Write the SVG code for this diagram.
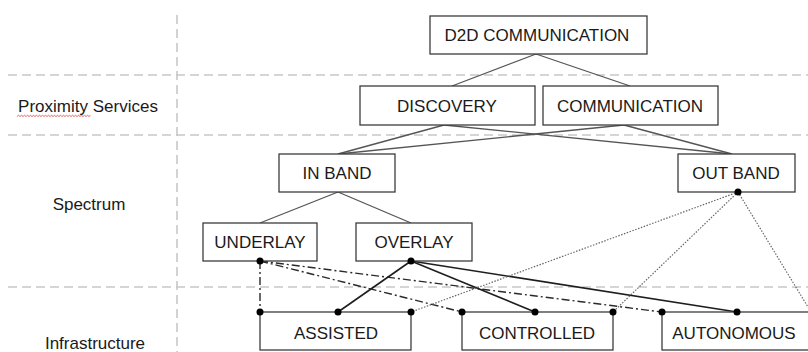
<svg xmlns="http://www.w3.org/2000/svg" width="808" height="352" viewBox="0 0 808 352">
  <style>
    .grid { stroke: #c8c8c8; stroke-width: 1.6; stroke-dasharray: 9 5; fill: none; }
    .box { fill: #ffffff; stroke: #3c3c3c; stroke-width: 1.3; }
    .label { font-family: "Liberation Sans", Arial, sans-serif; font-size: 17px; fill: #1a1a1a; text-anchor: middle; }
    .side { font-family: "Liberation Sans", Arial, sans-serif; font-size: 17px; fill: #1a1a1a; text-anchor: middle; }
    .tree { stroke: #555555; stroke-width: 1.3; fill: none; }
    .solid { stroke: #1e1e1e; stroke-width: 1.6; fill: none; }
    .dashdot { stroke: #2a2a2a; stroke-width: 1.4; stroke-dasharray: 8 3 2 3; fill: none; }
    .dotted { stroke: #666666; stroke-width: 1.2; stroke-dasharray: 1.5 1.5; fill: none; }
    .dot { fill: #000000; }
  </style>

  <rect width="808" height="352" fill="#ffffff"/>

  <!-- layer grid -->
  <g id="grid">
    <line class="grid" x1="177" y1="15" x2="177" y2="352"/>
    <line class="grid" x1="8" y1="75" x2="808" y2="75"/>
    <line class="grid" x1="8" y1="135" x2="808" y2="135"/>
    <line class="grid" x1="8" y1="287" x2="808" y2="287"/>
  </g>

  <!-- layer titles -->
  <g id="layer-labels">
    <text class="side" x="88" y="112">Proximity Services</text>
    <path d="M17 116.5 l1.5 -1.2 l1.5 1.2 l1.5 -1.2 l1.5 1.2 l1.5 -1.2 l1.5 1.2 l1.5 -1.2 l1.5 1.2 l1.5 -1.2 l1.5 1.2 l1.5 -1.2 l1.5 1.2 l1.5 -1.2 l1.5 1.2 l1.5 -1.2 l1.5 1.2 l1.5 -1.2 l1.5 1.2 l1.5 -1.2 l1.5 1.2 l1.5 -1.2 l1.5 1.2 l1.5 -1.2 l1.5 1.2 l1.5 -1.2 l1.5 1.2 l1.5 -1.2 l1.5 1.2 l1.5 -1.2 l1.5 1.2 l1.5 -1.2 l1.5 1.2 l1.5 -1.2 l1.5 1.2 l1.5 -1.2 l1.5 1.2 l1.5 -1.2 l1.5 1.2 l1.5 -1.2 l1.5 1.2 l1.5 -1.2 l1.5 1.2 l1.5 -1.2 l1.5 1.2 l1.5 -1.2 l1.5 1.2 l1.5 -1.2 l1.5 1.2 l1.5 -1.2" fill="none" stroke="#e04040" stroke-width="0.8"/>
    <text class="side" x="89" y="210">Spectrum</text>
    <text class="side" x="95" y="349">Infrastructure</text>
  </g>

  <!-- connectors -->
  <g id="connectors">
    <!-- hierarchy -->
    <line class="tree" x1="536" y1="54" x2="452" y2="86"/>
    <line class="tree" x1="536" y1="54" x2="630" y2="86"/>
    <line class="tree" x1="444" y1="125" x2="338" y2="154"/>
    <line class="tree" x1="444" y1="125" x2="732" y2="154"/>
    <line class="tree" x1="624" y1="125" x2="338" y2="154"/>
    <line class="tree" x1="624" y1="125" x2="732" y2="154"/>
    <line class="tree" x1="338" y1="192" x2="260" y2="223"/>
    <line class="tree" x1="338" y1="192" x2="411" y2="223"/>

    <!-- underlay -->
    <line class="dashdot" x1="260" y1="261" x2="260" y2="312"/>
    <line class="dashdot" x1="260" y1="261" x2="462" y2="312"/>
    <line class="dashdot" x1="260" y1="261" x2="662" y2="312"/>

    <!-- overlay -->
    <line class="solid" x1="411" y1="261" x2="338" y2="312"/>
    <line class="solid" x1="411" y1="261" x2="535" y2="312"/>
    <line class="solid" x1="411" y1="261" x2="737" y2="312"/>

    <!-- out band -->
    <line class="dotted" x1="738" y1="192" x2="411" y2="312"/>
    <line class="dotted" x1="738" y1="192" x2="613" y2="312"/>
    <line class="dotted" x1="738" y1="192" x2="811" y2="312"/>
  </g>

  <!-- nodes -->
  <g id="d2d-communication">
    <rect class="box" x="430" y="16" width="217" height="38"/>
    <text class="label" x="537" y="41">D2D COMMUNICATION</text>
  </g>
  <g id="discovery">
    <rect class="box" x="360" y="86" width="175" height="39"/>
    <text class="label" x="447" y="112">DISCOVERY</text>
  </g>
  <g id="communication">
    <rect class="box" x="543" y="86" width="175" height="39"/>
    <text class="label" x="630" y="112">COMMUNICATION</text>
  </g>
  <g id="in-band">
    <rect class="box" x="279" y="154" width="116" height="38"/>
    <text class="label" x="337" y="179">IN BAND</text>
  </g>
  <g id="out-band">
    <rect class="box" x="678" y="154" width="117" height="38"/>
    <text class="label" x="736" y="179">OUT BAND</text>
  </g>
  <g id="underlay">
    <rect class="box" x="203" y="223" width="114" height="38"/>
    <text class="label" x="260" y="248">UNDERLAY</text>
  </g>
  <g id="overlay">
    <rect class="box" x="356" y="223" width="116" height="38"/>
    <text class="label" x="414" y="248">OVERLAY</text>
  </g>
  <g id="assisted">
    <rect class="box" x="260" y="312" width="151" height="38"/>
    <text class="label" x="336" y="339">ASSISTED</text>
  </g>
  <g id="controlled">
    <rect class="box" x="462" y="312" width="151" height="38"/>
    <text class="label" x="537" y="339">CONTROLLED</text>
  </g>
  <g id="autonomous">
    <rect class="box" x="662" y="312" width="150" height="38"/>
    <text class="label" x="734" y="339">AUTONOMOUS</text>
  </g>

  <!-- connection points -->
  <g id="points">
    <circle class="dot" cx="260" cy="261" r="3.5"/>
    <circle class="dot" cx="411" cy="261" r="3.5"/>
    <circle class="dot" cx="738" cy="192" r="3.5"/>
    <circle class="dot" cx="260" cy="312" r="3.5"/>
    <circle class="dot" cx="338" cy="312" r="3.5"/>
    <circle class="dot" cx="411" cy="312" r="3.5"/>
    <circle class="dot" cx="462" cy="312" r="3.5"/>
    <circle class="dot" cx="535" cy="312" r="3.5"/>
    <circle class="dot" cx="613" cy="312" r="3.5"/>
    <circle class="dot" cx="662" cy="312" r="3.5"/>
    <circle class="dot" cx="737" cy="312" r="3.5"/>
  </g>
</svg>
